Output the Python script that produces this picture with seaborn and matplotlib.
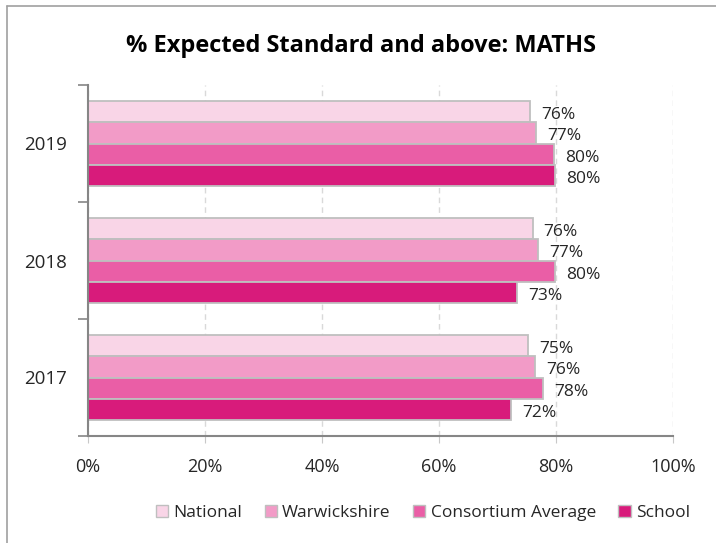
import numpy as np
import pandas as pd
import matplotlib
matplotlib.use("Agg")
import matplotlib.pyplot as plt
from matplotlib.patches import Patch
from matplotlib.lines import Line2D
from matplotlib.ticker import FuncFormatter
import seaborn as sns

# data (bar ends; labels are rounded)
years = ["2019", "2018", "2017"]
series = ["National", "Warwickshire", "Consortium Average", "School"]
national = [75.6, 76.0, 75.2]
warwickshire = [76.6, 76.9, 76.4]
consortium = [79.6, 79.8, 77.8]
school = [79.9, 73.3, 72.3]

colors = ["#f9d5e7", "#f29bc7", "#ea5ea6", "#d81b7b"]
edge = "#bfbfbf"

sns.set_style("white")
plt.rcParams["font.family"] = ["Open Sans", "DejaVu Sans"]

df = pd.DataFrame({
    "year": years * 4,
    "series": np.repeat(series, len(years)),
    "value": national + warwickshire + consortium + school,
})

fig = plt.figure(figsize=(7.16, 5.43), dpi=100)
ax = fig.add_axes([88 / 716, 1 - 436 / 543, (673 - 88) / 716, (436 - 85) / 543])

sns.barplot(
    data=df, x="value", y="year", hue="series",
    order=years, hue_order=series, palette=colors, saturation=1,
    width=0.72, edgecolor=edge, linewidth=1.3,
    errorbar=None, legend=False, ax=ax,
)

# value labels, a touch right of and below the bar end
for cont in ax.containers:
    for b in cont:
        w = b.get_width()
        ax.annotate(f"{w:.0f}%", (w, b.get_y() + b.get_height() / 2),
                    xytext=(8, -2.5), textcoords="offset points",
                    ha="left", va="center", fontsize=12.5, color="#262626")

ax.set_xlim(0, 100)
ax.set_ylim(2.5, -0.5)
ax.set_xticks(range(0, 101, 20))
ax.xaxis.set_major_formatter(FuncFormatter(lambda v, p: f"{v:.0f}%"))
ax.set_yticks([0, 1, 2])
ax.set_yticklabels(years)
ax.set_yticks([-0.5, 0.5, 1.5, 2.5], minor=True)
ax.tick_params(axis="y", which="major", length=0, pad=15, labelsize=13.5, labelcolor="#262626")
ax.tick_params(axis="y", which="minor", length=7, color="#868686", width=1.2, left=True)
ax.tick_params(axis="x", length=5, color="#c8c8c8", pad=11, labelsize=13, labelcolor="#262626", bottom=True)
ax.set_xlabel("")
ax.set_ylabel("")

ax.xaxis.grid(True, linestyle=(0, (4, 3)), color="#d9d9d9", linewidth=1)
ax.set_axisbelow(True)
for s in ["top", "right"]:
    ax.spines[s].set_visible(False)
for s in ["left", "bottom"]:
    ax.spines[s].set_color("#868686")
    ax.spines[s].set_linewidth(1.5)

fig.text(361 / 716, 1 - 46 / 543, "% Expected Standard and above: MATHS",
         ha="center", va="center", fontsize=17, fontweight="bold", color="black")

handles = [Patch(facecolor=c, edgecolor=edge, linewidth=1) for c in colors]
fig.legend(handles, series, loc="center", bbox_to_anchor=(423 / 716, 1 - 513 / 543),
           ncol=4, frameon=False, handlelength=0.7, handleheight=0.7,
           handletextpad=0.3, columnspacing=1.3, fontsize=12.5)

# outer chart frame (cut off at right and bottom)
fig.add_artist(Line2D([7 / 716, 7 / 716], [0, 1 - 6 / 543], transform=fig.transFigure,
                      color="#a0a0a0", linewidth=1.2))
fig.add_artist(Line2D([7 / 716, 1], [1 - 6 / 543, 1 - 6 / 543], transform=fig.transFigure,
                      color="#a0a0a0", linewidth=1.2))

fig.savefig("out.png", dpi=100)
